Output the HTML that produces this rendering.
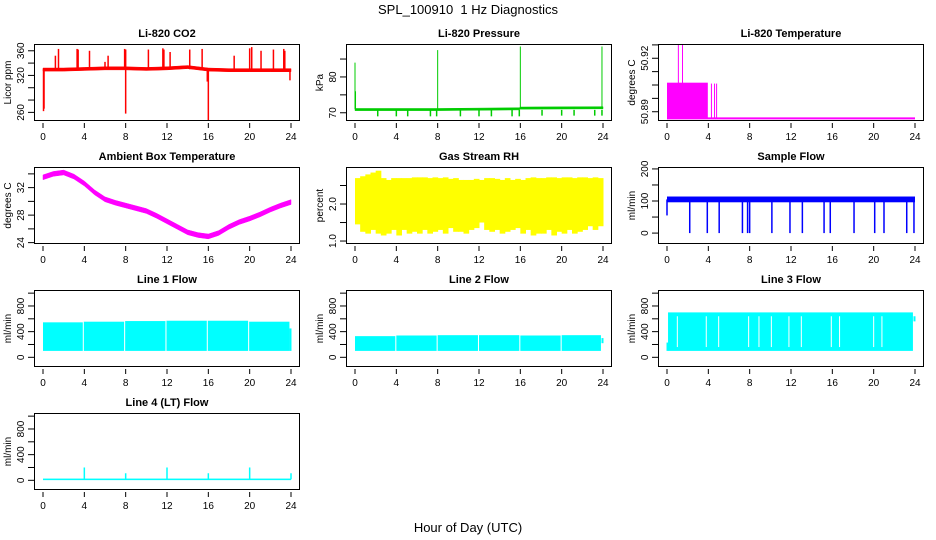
<!DOCTYPE html>
<html><head><meta charset="utf-8">
<style>
html,body{margin:0;padding:0;background:#fff;}
svg{display:block;font-family:"Liberation Sans",Arial,sans-serif;}
</style></head>
<body>
<svg id="chart" width="936" height="540" viewBox="0 0 936 540" xmlns="http://www.w3.org/2000/svg">
<rect width="936" height="540" fill="#fff"/>
<text x="468" y="14" font-size="13" text-anchor="middle">SPL_100910&#160; 1 Hz Diagnostics</text>
<text x="468" y="532" font-size="13" text-anchor="middle">Hour of Day (UTC)</text>
</svg>
<script>
// ---- data ----
const xTicks = [0,4,8,12,16,20,24];

// CO2
const co2BandHours = [0,2,4,6,8,10,12,14,16,18,20,22,24];
const co2BandHi = [332,332,333,334,334,333,334,336,332,331,331,331,331];
const co2BandLo = [327,327,328,329,329,328,329,331,327,326,326,326,326];
const co2UpHours = [1.2,1.5,3.3,3.4,4.5,6.0,6.3,7.9,8.0,10.2,11.6,11.7,12.3,14.2,15.4,18.5,20.0,20.2,21.1,22.3,23.3,23.4];
const co2UpVals = [352,363,363,362,360,342,352,363,362,362,364,362,358,362,363,352,364,366,360,362,363,360];
const co2DownHours = [0.05,0.1,8.0,16.0,15.9,23.9];
const co2DownVals = [262,266,258,247,310,312];

// Pressure
const presBandHours = [0,8,15.9,16,24];
const presBandHi = [71.2,71.2,71.4,71.6,71.7];
const presBandLo = [70.6,70.6,70.8,71.0,71.1];
const presDipHours = [2.2,4.0,5.1,7.3,7.9,10.2,12.0,13.2,15.2,15.9,18.1,20.0,21.2,23.2,23.9];
const presDipVals = [69,69,69,69,69,69,69,69,69,69,69.2,69.2,69.2,69.2,69.2];
const presSpikeHours = [0.0,0.05,8.0,16.0,23.9];
const presSpikeVals = [84,76,87.5,88.5,88.5];

// Li-820 Temperature
const ltBlockStart = [0.0], ltBlockEnd = [3.95], ltBlockHi = [50.9063];
const ltBase = 50.8863;
const ltSpikeHours = [1.1,1.5,4.3,4.6,4.8];
const ltSpikeVals = [50.935,50.935,50.9058,50.9058,50.9058];

// Ambient box temperature
const ambHours = [0,1,2,3,4,5,6,7,8,9,10,11,12,13,14,15,16,17,18,19,20,21,22,23,24];
const ambVals = [33.5,34.0,34.2,33.6,32.6,31.3,30.3,29.8,29.4,29.0,28.6,27.9,27.1,26.3,25.5,25.1,24.9,25.4,26.3,27.0,27.5,28.1,28.8,29.4,29.9];

// Gas stream RH
const rhHours = [0,0.5,1,1.5,2,2.5,3,3.5,4,4.5,5,5.5,6,6.5,7,7.5,8,8.5,9,9.5,10,10.5,11,11.5,12,12.5,13,13.5,14,14.5,15,15.5,16,16.5,17,17.5,18,18.5,19,19.5,20,20.5,21,21.5,22,22.5,23,23.5,24];
const rhHi = [2.7,2.75,2.8,2.85,2.9,2.7,2.65,2.7,2.7,2.7,2.7,2.72,2.72,2.72,2.7,2.72,2.7,2.72,2.68,2.7,2.65,2.65,2.65,2.68,2.65,2.7,2.7,2.68,2.65,2.7,2.65,2.68,2.65,2.7,2.72,2.7,2.7,2.72,2.72,2.7,2.72,2.72,2.7,2.72,2.72,2.7,2.72,2.7,2.6];
const rhLo = [1.45,1.25,1.2,1.3,1.2,1.15,1.2,1.3,1.15,1.3,1.2,1.25,1.2,1.3,1.2,1.25,1.3,1.2,1.35,1.25,1.25,1.2,1.3,1.35,1.5,1.3,1.25,1.3,1.2,1.25,1.3,1.35,1.2,1.3,1.15,1.2,1.2,1.3,1.15,1.25,1.2,1.3,1.2,1.25,1.3,1.4,1.3,1.4,1.6];

// Sample flow
const sfBandHi = [114], sfBandLo = [96];
const sfDropHours = [2.2,3.9,5.05,7.3,7.8,8.0,10.15,11.9,13.1,15.2,15.8,18.1,20.1,21.0,23.2,23.9];
const sfStartVal = [55];

// Line flows
const l1SegStart = [0,3.95,7.95,11.95,15.95,19.95];
const l1SegEnd = [3.85,7.85,11.85,15.85,19.85,23.85];
const l1SegHi = [545,555,565,570,570,555];
const l1Lo = 100, l1EndVal = 450;
const l2SegStart = [0,4.0,8.0,12.0,16.0,20.0];
const l2SegEnd = [3.9,7.9,11.9,15.9,19.9,23.8];
const l2SegHi = [330,340,345,345,340,345];
const l2Lo = 100, l2EndVal = 300;
const l3SegStart = [0.1], l3SegEnd = [23.8], l3SegHi = [700];
const l3Lo = 100, l3EndVal = 640;
const l3GapHours = [1.0,3.8,5.0,7.9,8.9,10.1,11.8,13.0,15.9,16.7,20.0,20.8];
const l4Base = [15];
const l4SpikeHours = [4,8,12,16,20,24];
const l4SpikeVals = [200,110,200,110,200,110];

// ---- drawing ----
const NS = "http://www.w3.org/2000/svg";
const svg = document.getElementById('chart');
function mk(tag, attrs, parent){
  const e = document.createElementNS(NS, tag);
  for (const k in attrs) e.setAttribute(k, attrs[k]);
  (parent||svg).appendChild(e);
  return e;
}
const colLeft = [34,346,658], rowTop = [44,167,290,413], W = 266, H = 77;

function panel(col,row,title,ylab,ymin,ymax,ticks,labels,name){
  const L = colLeft[col], T = rowTop[row];
  const g = mk('g',{});
  
  
  const xs = h => L + 9 + h*(248/24);
  const ys = v => T + H - (v-ymin)/(ymax-ymin)*H;
  const clipId = 'clip'+col+row;
  const cp = mk('clipPath',{id:clipId},g);
  mk('rect',{x:L,y:T,width:W,height:H},cp);
  const plot = mk('g',{'clip-path':'url(#'+clipId+')'},g);
  
  
  const t = mk('text',{x:L+W/2,y:T-7,'font-size':11,'font-weight':'bold','text-anchor':'middle'},g);
  t.textContent = title;
  
  
  xTicks.forEach(h=>{
    const tk = mk('line',{x1:xs(h),x2:xs(h),y1:T+H+2,y2:T+H+7,stroke:'#000','stroke-width':1},g);
    
    
    const tl = mk('text',{x:xs(h),y:T+H+19,'font-size':10,'text-anchor':'middle'},g);
    tl.textContent = h;
    
    
  });
  ticks.forEach((v,i)=>{
    const tk = mk('line',{x1:L-6,x2:L,y1:ys(v),y2:ys(v),stroke:'#000','stroke-width':1},g);
    
    
    if (labels[i]!==''){
      const tx = L-10, ty = ys(v);
      const tl = mk('text',{x:tx,y:ty,'font-size':10,'text-anchor':'middle',transform:'rotate(-90 '+tx+' '+ty+')'},g);
      tl.textContent = labels[i];
      
      
    }
  });
  const yx = L-23, yy = T+H/2;
  const yl = mk('text',{x:yx,y:yy,'font-size':10,'text-anchor':'middle',transform:'rotate(-90 '+yx+' '+yy+')'},g);
  yl.textContent = ylab;
  
  
  const box = mk('rect',{x:L+0.5,y:T+0.5,width:W-1,height:H-1,fill:'none',stroke:'#000','stroke-width':1},g);
  
  
  return {xs,ys,plot};
}
function band(p,hours,hi,lo,color,name){
  let d = 'M';
  hours.forEach((h,i)=>{ d += p.xs(h)+','+p.ys(hi[i])+' L'; });
  for (let i=hours.length-1;i>=0;i--) d += p.xs(hours[i])+','+p.ys(lo[i])+(i>0?' L':' Z');
  const e = mk('path',{d:d,fill:color,stroke:color,'stroke-width':0.5},p.plot);
  
  
}
function stepBand(p,hours,hi,lo,color,name){
  const g = mk('g',{},p.plot);
  
  
  for (let i=0;i<hours.length-1;i++){
    const x0=p.xs(hours[i]), x1=p.xs(hours[i+1]);
    const y0=p.ys(hi[i]), y1=p.ys(lo[i]);
    const r = mk('rect',{x:x0,y:y0,width:x1-x0+0.5,height:y1-y0,fill:color},g);
    
    
  }
}
function vline(p,h,v0,v1,color,w,name){
  const e = mk('line',{x1:p.xs(h),x2:p.xs(h),y1:p.ys(v0),y2:p.ys(v1),stroke:color,'stroke-width':w||1},p.plot);
  
  
}
function rectBand(p,h0,h1,v0,v1,color,name){
  const e = mk('rect',{x:p.xs(h0),y:p.ys(v1),width:p.xs(h1)-p.xs(h0),height:p.ys(v0)-p.ys(v1),fill:color},p.plot);
  
  
}

(function(){
  const p = panel(0,0,'Li-820 CO2','Licor ppm',246,371,[260,280,300,320,340,360],['260','','','320','','360'],'co2');
  band(p,co2BandHours,co2BandHi,co2BandLo,'#ff0000','co2-series');
  co2UpHours.forEach((h,i)=>vline(p,h,330,co2UpVals[i],'#ff0000',1.5,'co2-spike'));
  co2DownHours.forEach((h,i)=>vline(p,h,330,co2DownVals[i],'#ff0000',1.5,'co2-dip'));
})();
(function(){
  const p = panel(1,0,'Li-820 Pressure','kPa',67.7,89.2,[70,75,80,85],['70','','80',''],'pressure');
  band(p,presBandHours,presBandHi,presBandLo,'#00cc00','pressure-series');
  presDipHours.forEach((h,i)=>vline(p,h,70.8,presDipVals[i],'#00cc00',1.5,'pressure-dip'));
  presSpikeHours.forEach((h,i)=>vline(p,h,71,presSpikeVals[i],'#00cc00',1,'pressure-spike'));
})();
(function(){
  const tk=[50.89,50.8975,50.905,50.9125,50.92,50.9275];
  const p = panel(2,0,'Li-820 Temperature','degrees C',50.8848,50.928,tk,['50.89','','','','50.92',''],'li820-temp');
  rectBand(p,ltBlockStart[0],ltBlockEnd[0],ltBase,ltBlockHi[0],'#ff00ff','li820-temp-block');
  const b = mk('line',{x1:p.xs(0),x2:p.xs(24),y1:p.ys(ltBase),y2:p.ys(ltBase),stroke:'#ff00ff','stroke-width':2},p.plot);
  
  
  ltSpikeHours.forEach((h,i)=>vline(p,h,ltBase,ltSpikeVals[i],'#ff00ff',1,'li820-temp-spike'));
})();
(function(){
  const p = panel(0,1,'Ambient Box Temperature','degrees C',23.8,35.0,[24,26,28,30,32,34],['24','','28','','32',''],'ambient-temp');
  band(p,ambHours,ambVals.map(v=>v+0.35),ambVals.map(v=>v-0.35),'#ff00ff','ambient-temp-series');
})();
(function(){
  const p = panel(1,1,'Gas Stream RH','percent',0.92,3.0,[1.0,1.5,2.0,2.5],['1.0','','2.0',''],'rh');
  stepBand(p,rhHours,rhHi,rhLo,'#ffff00','rh-series');
})();
(function(){
  const p = panel(2,1,'Sample Flow','ml/min',-34,206,[0,50,100,150,200],['0','','100','','200'],'sample-flow');
  rectBand(p,0,24,sfBandLo[0],sfBandHi[0],'#0000ff','sample-flow-series');
  vline(p,0,sfStartVal[0],105,'#0000ff',1.5,'sample-flow-start');
  sfDropHours.forEach(h=>vline(p,h,0,105,'#0000ff',1.5,'sample-flow-dropout'));
})();
const lfT=[0,200,400,600,800,1000], lfL=['0','','400','','800',''];
(function(){
  const p = panel(0,2,'Line 1 Flow','ml/min',-151,1049,lfT,lfL,'line1-flow');
  l1SegStart.forEach((s,i)=>rectBand(p,s,l1SegEnd[i],l1Lo,l1SegHi[i],'#00ffff','line1-flow-block'));
  vline(p,23.95,l1Lo,l1EndVal,'#00ffff',2,'line1-flow-end');
})();
(function(){
  const p = panel(1,2,'Line 2 Flow','ml/min',-151,1049,lfT,lfL,'line2-flow');
  l2SegStart.forEach((s,i)=>rectBand(p,s,l2SegEnd[i],l2Lo,l2SegHi[i],'#00ffff','line2-flow-block'));
  vline(p,23.95,220,l2EndVal,'#00ffff',2,'line2-flow-end');
})();
(function(){
  const p = panel(2,2,'Line 3 Flow','ml/min',-151,1049,lfT,lfL,'line3-flow');
  l3SegStart.forEach((s,i)=>rectBand(p,s,l3SegEnd[i],l3Lo,l3SegHi[i],'#00ffff','line3-flow-block'));
  vline(p,0.05,l3Lo,230,'#00ffff',2,'line3-flow-start');
  vline(p,23.95,560,l3EndVal,'#00ffff',2,'line3-flow-end');
  l3GapHours.forEach(h=>vline(p,h,160,640,'#ffffff',1,'line3-flow-gap'));
})();
(function(){
  const p = panel(0,3,'Line 4 (LT) Flow','ml/min',-151,1049,lfT,lfL,'line4-flow');
  rectBand(p,0,24,l4Base[0]-12,l4Base[0]+12,'#00ffff','line4-flow-series');
  l4SpikeHours.forEach((h,i)=>vline(p,h,l4Base[0],l4SpikeVals[i],'#00ffff',1.5,'line4-flow-spike'));
})();
</script>
</body></html>
